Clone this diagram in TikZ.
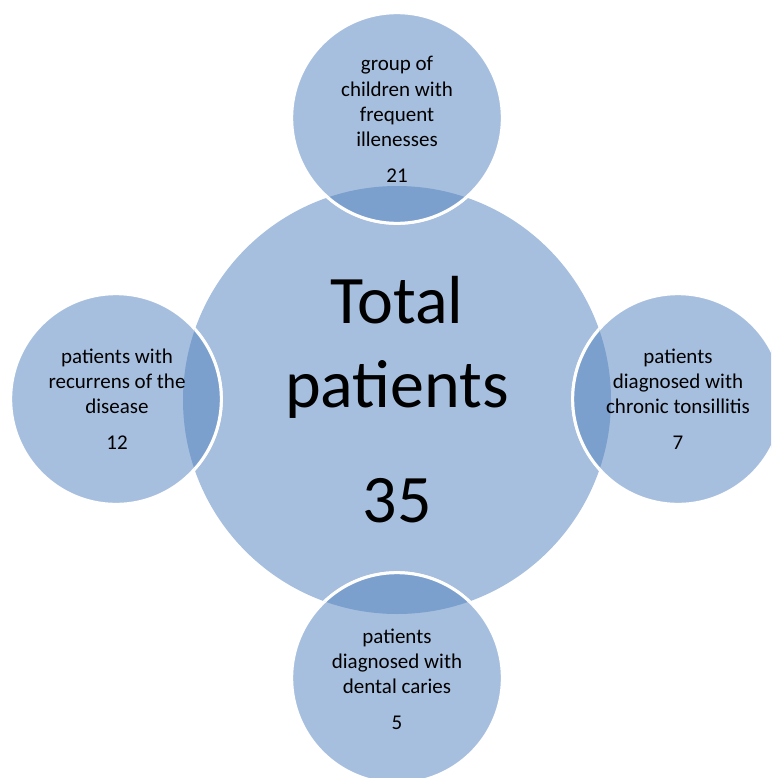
\documentclass[tikz,border=0pt]{standalone}
\usepackage{fontspec}
\setmainfont{Carlito}
\definecolor{lightblue}{HTML}{A7BFDE}
\definecolor{darkblue}{HTML}{7BA0CD}
\begin{document}
\begin{tikzpicture}[x=0.75pt,y=-0.75pt,
  bigc/.style={circle, fill=lightblue, inner sep=0pt, minimum size=321pt},
  satc/.style={circle, fill=lightblue, draw=white, line width=2.25pt, inner sep=0pt, minimum size=158pt},
  sattext/.style={align=center, font=\fontsize{15.75}{19}\selectfont, anchor=base, inner sep=0pt},
  bigtext/.style={align=center, font=\fontsize{51}{63}\selectfont, anchor=base, inner sep=0pt}]
\useasboundingbox (0,0) rectangle (771,778);
\clip (0,0) rectangle (771,778);
\node[bigc] (total) at (397,400) {};
\node[satc] (top) at (397,118) {};
\node[satc] (left) at (116,399) {};
\node[satc] (right) at (678,399) {};
\node[satc] (bottom) at (397,678) {};
\begin{scope}
  \clip (total.center) circle [radius=214];
  \foreach \n in {top,left,right,bottom}{
    \fill[darkblue] (\n.center) circle [radius=105.33];
    \draw[white, line width=2.25pt] (\n.center) circle [radius=105.33];
  }
\end{scope}
\node[bigtext] (totaltxt) at (397,522) {Total\\patients\\[23pt]35};
\node[sattext] (toptxt) at (397,182) {group of\\children with\\frequent\\illenesses\\[7.5pt]21};
\node[sattext] (lefttxt) at (117,449) {patients with\\recurrens of the\\disease\\[7.5pt]12};
\node[sattext] (righttxt) at (678,449) {patients\\diagnosed with\\chronic tonsillitis\\[7.5pt]7};
\node[sattext] (bottomtxt) at (397,729) {patients\\diagnosed with\\dental caries\\[7.5pt]5};
\end{tikzpicture}
\end{document}
